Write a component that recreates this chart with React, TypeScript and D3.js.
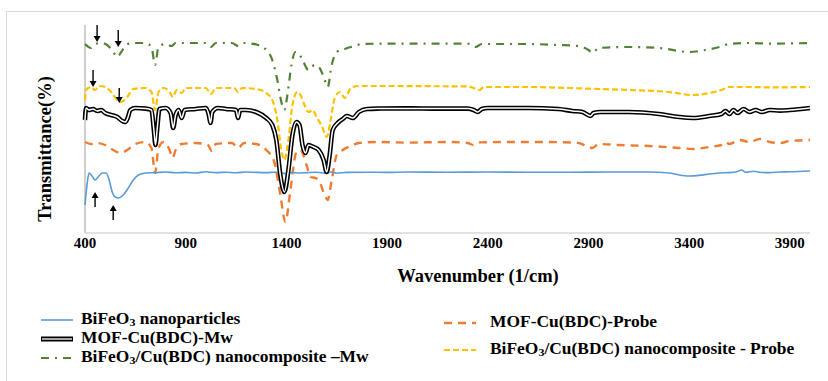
import React from "react";
import * as d3 from "d3";

type Pt = [number, number];

// wavenumber (1/cm), transmittance (relative, offset-stacked)
const bifeo3: Pt[] = [
  [400, 14], [410, 24], [420, 30], [435, 28.5], [450, 26.5], [465, 28], [485, 30], [505, 30],
  [520, 26.5], [535, 20.5], [550, 18], [565, 17.5], [590, 19], [615, 22.5], [640, 26.5], [665, 29],
  [700, 30], [750, 30.2], [800, 30.5], [850, 30.1], [900, 30.3], [950, 30.0], [1000, 30.6], [1050, 30.2],
  [1100, 30.4], [1150, 30.1], [1200, 30.5], [1250, 30.3], [1300, 30.2], [1350, 30.4], [1380, 30.0],
  [1400, 29.6], [1430, 30.3], [1460, 30.0], [1500, 30.2], [1550, 30.4], [1600, 29.8], [1620, 30.5],
  [1650, 30.0], [1700, 30.3], [1800, 30.4], [1900, 30.3], [2000, 30.5], [2200, 30.4], [2400, 30.5],
  [2600, 30.4], [2800, 30.4], [3000, 30.5], [3200, 30.5], [3300, 30.0], [3350, 29.0], [3400, 28.5],
  [3450, 28.8], [3500, 29.5], [3550, 30.0], [3600, 30.2], [3640, 30.8], [3660, 31.5], [3680, 30.4],
  [3720, 30.9], [3750, 30.4], [3800, 30.2], [3850, 30.5], [3900, 30.6], [4000, 31.0],
];

const mofProbe: Pt[] = [
  [400, 45.5], [430, 44.5], [460, 45], [500, 44], [540, 41.5], [575, 40], [610, 41.5], [650, 44.5],
  [700, 45.5], [730, 42.5], [748, 30], [765, 42.5], [790, 45.5], [820, 41.5], [835, 37.5], [850, 41.5],
  [880, 44.5], [950, 45], [1010, 44], [1030, 41], [1050, 44.5], [1130, 45], [1160, 42.5], [1190, 45],
  [1250, 44.5], [1300, 41.5], [1340, 35.5], [1370, 19], [1395, 5.5], [1420, 21.5], [1450, 40.5],
  [1470, 41.5], [1500, 34], [1520, 28], [1545, 27.5], [1565, 25.5], [1590, 19], [1605, 16.5],
  [1625, 26.5], [1650, 39], [1680, 41.5], [1720, 43.5], [1760, 45], [1850, 45.5], [2000, 45.2],
  [2200, 45.5], [2300, 45], [2330, 44], [2360, 45.3], [2500, 45.5], [2700, 45.5], [2850, 45],
  [2900, 43], [2920, 42.5], [2950, 44.5], [3050, 44], [3200, 43.5], [3350, 42.5], [3420, 42],
  [3500, 43], [3560, 44], [3580, 45.5], [3600, 44.5], [3650, 46.5], [3700, 45.5], [3750, 47],
  [3800, 45.5], [3850, 45], [3900, 46], [4000, 46.5],
];

const mofMw: Pt[] = [
  [400, 56.5], [405, 62.5], [420, 61.5], [440, 62], [460, 61], [480, 61.5], [500, 60], [530, 59],
  [560, 58], [585, 56], [600, 55.5], [612, 57.5], [625, 61.5], [650, 62.5], [700, 62.2], [730, 61.5],
  [742, 51.5], [750, 44], [758, 51.5], [770, 62], [800, 62.5], [825, 60], [838, 52.5], [850, 59],
  [865, 61.5], [880, 57.5], [895, 61.5], [950, 62], [1000, 62.5], [1015, 59], [1023, 55], [1032, 60.5],
  [1060, 62.5], [1100, 62], [1150, 61.5], [1160, 57.5], [1170, 61.5], [1200, 61.5], [1250, 60.5],
  [1300, 57.5], [1330, 54], [1350, 46.5], [1370, 29], [1390, 20.5], [1410, 31.5], [1430, 49],
  [1450, 55.5], [1465, 54], [1480, 44], [1495, 40], [1510, 44], [1535, 43], [1560, 41.5], [1585, 36.5],
  [1600, 30.5], [1615, 39], [1630, 51.5], [1660, 55.5], [1680, 57], [1700, 58.5], [1730, 57.5],
  [1760, 60.5], [1800, 62], [1850, 62.2], [2000, 62.3], [2150, 62.2], [2300, 62.2], [2330, 61.5],
  [2350, 60.5], [2370, 62], [2400, 62.5], [2600, 62.5], [2750, 62], [2820, 61], [2870, 60.5],
  [2910, 58.5], [2925, 60], [2960, 60.5], [3100, 60.5], [3250, 59.5], [3350, 58], [3420, 57.5],
  [3500, 58.5], [3560, 59.5], [3580, 61], [3600, 59.5], [3620, 61.5], [3640, 60], [3670, 62],
  [3700, 60.5], [3730, 61.5], [3760, 60.5], [3800, 61.5], [3850, 61.2], [3900, 61.5], [4000, 62.5],
];

const compProbe: Pt[] = [
  [400, 66.5], [405, 71.5], [430, 73], [450, 71.5], [470, 73.5], [500, 73], [530, 70.5], [560, 66.5],
  [580, 65.5], [610, 68], [640, 72], [700, 72.5], [730, 70.5], [748, 61.5], [765, 70.5], [790, 72.5],
  [820, 70.5], [836, 68], [855, 71.5], [880, 70], [900, 72.5], [1000, 72.5], [1025, 69.5], [1050, 72.5],
  [1140, 72.5], [1160, 70.5], [1180, 72.5], [1250, 72], [1300, 70], [1330, 66.5], [1355, 56.5],
  [1375, 41.5], [1390, 36.5], [1410, 46.5], [1430, 64], [1455, 70.5], [1470, 69], [1490, 64],
  [1510, 60.5], [1530, 61.5], [1550, 58], [1580, 52.5], [1600, 48], [1620, 56.5], [1640, 67.5],
  [1665, 70.5], [1690, 67.5], [1720, 72.5], [1760, 73.5], [1900, 73.5], [2100, 73.4], [2300, 73.3],
  [2330, 72.5], [2360, 71.5], [2380, 73], [2600, 73], [2800, 72.5], [2950, 72], [3100, 71.5],
  [3300, 70.5], [3420, 69], [3500, 70], [3560, 71.5], [3600, 73], [3700, 73], [3800, 72.8], [4000, 73],
];

const compMw: Pt[] = [
  [400, 94.5], [430, 92.5], [450, 94.5], [480, 95], [510, 94], [540, 90.5], [560, 88], [580, 90.5],
  [610, 94.5], [650, 95], [700, 95], [730, 93], [748, 84], [765, 93], [800, 94.5], [830, 93.5],
  [850, 95], [900, 95], [1000, 95], [1025, 93], [1050, 95], [1130, 95], [1160, 93.5], [1190, 95],
  [1260, 94], [1300, 91.5], [1330, 86.5], [1355, 76.5], [1375, 65.5], [1390, 61.5], [1405, 69],
  [1425, 84], [1445, 90.5], [1460, 90], [1480, 86.5], [1510, 81.5], [1540, 84], [1565, 82.5],
  [1590, 76.5], [1605, 73], [1625, 84], [1650, 90.5], [1690, 92], [1720, 93], [1780, 94.5],
  [1900, 94.7], [2100, 94.7], [2300, 94.7], [2340, 93], [2370, 94.5], [2600, 94.5], [2750, 94],
  [2850, 93.5], [2900, 91.5], [2920, 90], [2950, 92.5], [3100, 93], [3250, 92.5], [3400, 90.5],
  [3480, 91.5], [3550, 93], [3600, 94.5], [3700, 95], [3800, 94.7], [4000, 95],
];

const xTicks = [400, 900, 1400, 1900, 2400, 2900, 3400, 3900];

// arrow annotations: wavenumber, tail value, head value
const arrowNotes: [number, number, number][] = [
  [460, 104, 95.5], [565, 101.5, 93], [440, 81.5, 73], [570, 72.5, 65],
  [450, 13, 20.5], [540, 6.5, 14],
];

const legendLeft = [
  { parts: ["BiFeO", "3", " nanoparticles"], key: "blue" },
  { parts: ["MOF-Cu(BDC)-Mw", "", ""], key: "black" },
  { parts: ["BiFeO", "3", "/Cu(BDC) nanocomposite \u2013Mw"], key: "green" },
];
const legendRight = [
  { parts: ["MOF-Cu(BDC)-Probe", "", ""], key: "orange" },
  { parts: ["BiFeO", "3", "/Cu(BDC) nanocomposite - Probe"], key: "yellow" },
];

const W = 828;
const H = 381;
const FONT = "'Liberation Serif', 'Times New Roman', serif";

const styles: Record<string, { color: string; width: number; dash?: string }> = {
  blue: { color: "#5b9bd5", width: 1.6 },
  orange: { color: "#ed7d31", width: 2.4, dash: "8,6" },
  yellow: { color: "#ffc000", width: 2.2, dash: "6,3" },
  green: { color: "#548235", width: 2.2, dash: "8,6,2,6" },
  black: { color: "#000", width: 5 },
};

export default function App() {
  const x = d3.scaleLinear().domain([400, 4000]).range([85, 810]);
  const y = d3.scaleLinear().domain([0, 104]).range([233, 25]);
  const line = d3
    .line<Pt>()
    .x((d) => x(d[0]))
    .y((d) => y(d[1]))
    .curve(d3.curveMonotoneX);

  const series: [Pt[], string][] = [
    [compMw, "green"],
    [compProbe, "yellow"],
    [mofProbe, "orange"],
    [bifeo3, "blue"],
  ];

  const swatch = (key: string, x1: number, x2: number, yy: number) => {
    const s = styles[key];
    if (key === "black") {
      return (
        <g>
          <line x1={x1} x2={x2} y1={yy} y2={yy} stroke="#000" strokeWidth={5} />
          <line x1={x1 + 1} x2={x2 - 1} y1={yy} y2={yy} stroke="#a6a6a6" strokeWidth={2} />
        </g>
      );
    }
    return (
      <line x1={x1} x2={x2} y1={yy} y2={yy} stroke={s.color} strokeWidth={s.width} strokeDasharray={s.dash} />
    );
  };

  const legText = (parts: string[], tx: number, ty: number) => (
    <text
      transform={`translate(${tx},${ty}) scale(1.09,1)`}
      fontFamily={FONT}
      fontWeight="bold"
      fontSize={16}
      fill="#000"
      dominantBaseline="middle"
    >
      {parts[0]}
      {parts[1] ? (
        <tspan dy={3.5} fontSize={11}>
          {parts[1]}
        </tspan>
      ) : null}
      {parts[2] ? <tspan dy={parts[1] ? -3.5 : 0}>{parts[2]}</tspan> : null}
    </text>
  );

  return (
    <svg width={W} height={H} style={{ position: "absolute", left: 0, top: 0, display: "block", background: "#fff" }}>
      <rect x={6.5} y={11.5} width={900} height={500} fill="#fff" stroke="#d9d9d9" strokeWidth={1} />
      {/* axes */}
      <line x1={85} x2={85} y1={25} y2={233} stroke="#bfbfbf" strokeWidth={1.5} />
      <line x1={85} x2={810} y1={233} y2={233} stroke="#d9d9d9" strokeWidth={1.5} />
      {xTicks.map((t) => (
        <text key={t} x={x(t)} y={245} textAnchor="middle" dominantBaseline="middle" fontFamily={FONT} fontWeight="bold" fontSize={15}>
          {t}
        </text>
      ))}
      <text x={478} y={278} textAnchor="middle" dominantBaseline="middle" fontFamily={FONT} fontWeight="bold" fontSize={18.5}>
        Wavenumber (1/cm)
      </text>
      <text
        transform={`translate(47,149) rotate(-90)`}
        textAnchor="middle"
        dominantBaseline="middle"
        fontFamily={FONT}
        fontWeight="bold"
        fontSize={18.5}
      >
        Transmittance(%)
      </text>

      {/* series */}
      {series.map(([data, key]) => {
        const s = styles[key];
        return (
          <path key={key} d={line(data) || ""} fill="none" stroke={s.color} strokeWidth={s.width} strokeDasharray={s.dash} strokeLinejoin="round" />
        );
      })}
      <path d={line(mofMw) || ""} fill="none" stroke="#000" strokeWidth={4.6} strokeLinejoin="round" />
      <path d={line(mofMw) || ""} fill="none" stroke="#fff" strokeWidth={1.5} strokeLinejoin="round" />

      {/* arrows */}
      {arrowNotes.map(([wn, v1, v2], i) => {
        const ax = x(wn);
        const y1 = y(v1);
        const y2 = y(v2);
        const dir = y2 > y1 ? 1 : -1;
        const hl = 6;
        return (
          <g key={i}>
            <line x1={ax} x2={ax} y1={y1} y2={y2 - dir * hl} stroke="#000" strokeWidth={1.4} />
            <path d={`M${ax - 3.5},${y2 - dir * hl} L${ax + 3.5},${y2 - dir * hl} L${ax},${y2} Z`} fill="#000" />
          </g>
        );
      })}

      {/* legend */}
      {legendLeft.map((l, i) => {
        const ly = 320 + i * 19;
        return (
          <g key={l.key}>
            {swatch(l.key, 41, 73, ly)}
            {legText(l.parts, 81, ly)}
          </g>
        );
      })}
      {legendRight.map((l, i) => {
        const ly = 323 + i * 27;
        return (
          <g key={l.key}>
            {swatch(l.key, 444, 476, ly)}
            {legText(l.parts, 490, ly)}
          </g>
        );
      })}
    </svg>
  );
}
